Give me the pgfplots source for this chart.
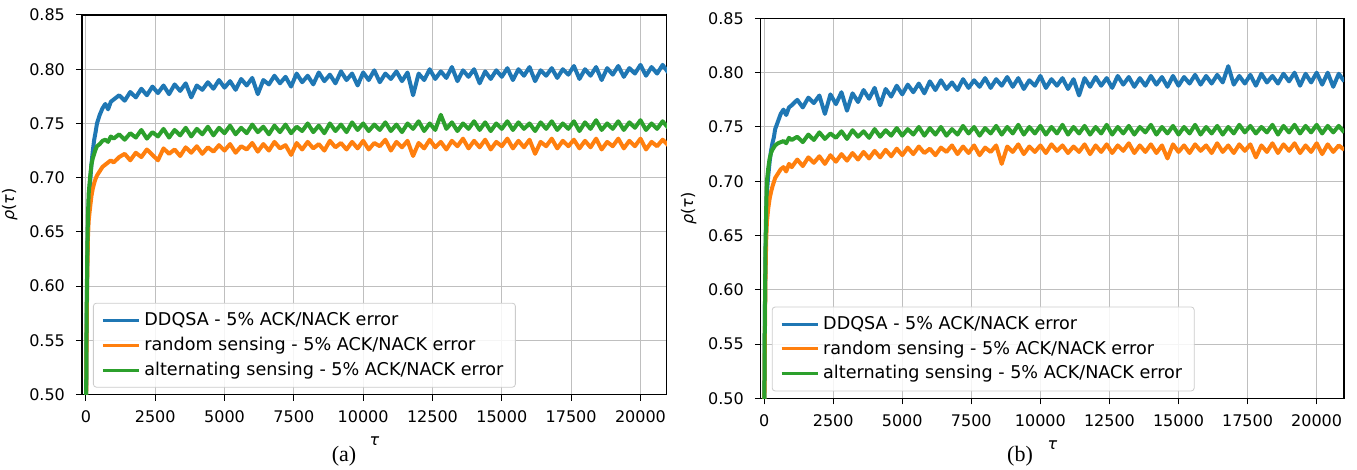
\documentclass[border=0pt]{standalone}
\usepackage{fontspec}
\setmainfont{DejaVu Sans}
\newfontfamily\capfont{Liberation Serif}
\usepackage{pgfplots}
\usepackage{pgfplotstable}
\pgfplotsset{compat=1.18}

\definecolor{mblue}{HTML}{1F77B4}
\definecolor{morange}{HTML}{FF7F0E}
\definecolor{mgreen}{HTML}{2CA02C}

% x  ddqsa  random  alternating   -- panel (a)
\pgfplotstableread{
x y1 y2 y3
0 0.450 0.450 0.450
25 0.560 0.550 0.570
50 0.620 0.610 0.630
75 0.655 0.645 0.665
100 0.675 0.660 0.685
150 0.695 0.672 0.700
200 0.712 0.683 0.712
250 0.725 0.690 0.718
300 0.735 0.695 0.722
350 0.742 0.699 0.726
400 0.750 0.702 0.729
500 0.758 0.706 0.731
600 0.764 0.710 0.734
700 0.768 0.712 0.735
800 0.763 0.714 0.733
900 0.770 0.716 0.738
1000 0.772 0.714 0.736
1200 0.776 0.719 0.740
1400 0.771 0.722 0.735
1600 0.779 0.716 0.741
1800 0.774 0.723 0.737
2000 0.782 0.719 0.744
2200 0.776 0.726 0.736
2400 0.784 0.721 0.742
2600 0.778 0.716 0.738
2800 0.785 0.727 0.745
3000 0.777 0.722 0.737
3200 0.786 0.726 0.744
3400 0.780 0.720 0.739
3600 0.787 0.728 0.746
3800 0.774 0.723 0.738
4000 0.785 0.729 0.745
4200 0.781 0.722 0.740
4400 0.788 0.728 0.747
4600 0.782 0.724 0.739
4800 0.790 0.730 0.746
5000 0.783 0.725 0.741
5200 0.789 0.731 0.748
5400 0.781 0.723 0.740
5600 0.791 0.729 0.746
5800 0.785 0.726 0.741
6000 0.792 0.732 0.749
6200 0.777 0.724 0.742
6400 0.790 0.731 0.747
6600 0.786 0.725 0.740
6800 0.794 0.733 0.748
7000 0.787 0.727 0.742
7200 0.793 0.730 0.749
7400 0.784 0.721 0.741
7600 0.796 0.732 0.747
7800 0.788 0.726 0.743
8000 0.794 0.733 0.750
8200 0.786 0.727 0.742
8400 0.797 0.731 0.748
8600 0.789 0.725 0.741
8800 0.795 0.734 0.750
9000 0.787 0.728 0.743
9200 0.798 0.732 0.749
9400 0.790 0.726 0.742
9600 0.796 0.733 0.751
9800 0.785 0.727 0.744
10000 0.797 0.734 0.750
10200 0.790 0.726 0.743
10400 0.799 0.732 0.749
10600 0.788 0.729 0.744
10800 0.796 0.735 0.751
11000 0.791 0.725 0.743
11200 0.798 0.733 0.749
11400 0.789 0.728 0.742
11600 0.797 0.734 0.750
11800 0.776 0.720 0.745
12000 0.796 0.732 0.752
12200 0.790 0.727 0.743
12400 0.800 0.735 0.750
12600 0.791 0.728 0.744
12800 0.798 0.733 0.758
13000 0.792 0.726 0.745
13200 0.802 0.734 0.751
13400 0.789 0.729 0.743
13600 0.799 0.736 0.750
13800 0.793 0.727 0.745
14000 0.800 0.734 0.752
14200 0.787 0.728 0.744
14400 0.798 0.735 0.751
14600 0.791 0.726 0.743
14800 0.799 0.733 0.750
15000 0.793 0.729 0.745
15200 0.801 0.736 0.752
15400 0.790 0.727 0.744
15600 0.800 0.734 0.751
15800 0.794 0.728 0.745
16000 0.802 0.735 0.750
16200 0.789 0.722 0.743
16400 0.799 0.733 0.751
16600 0.794 0.729 0.745
16800 0.801 0.736 0.752
17000 0.792 0.727 0.744
17200 0.800 0.734 0.750
17400 0.795 0.729 0.745
17600 0.803 0.735 0.752
17800 0.791 0.727 0.743
18000 0.800 0.734 0.751
18200 0.794 0.728 0.745
18400 0.802 0.736 0.753
18600 0.790 0.726 0.744
18800 0.801 0.733 0.750
19000 0.795 0.729 0.745
19200 0.803 0.736 0.752
19400 0.793 0.727 0.744
19600 0.801 0.734 0.751
19800 0.796 0.729 0.746
20000 0.804 0.736 0.753
20200 0.794 0.726 0.744
20400 0.802 0.733 0.750
20600 0.796 0.729 0.745
20800 0.804 0.735 0.752
21000 0.797 0.730 0.746
}\dataA

% panel (b)
\pgfplotstableread{
x y1 y2 y3
0 0.450 0.450 0.450
25 0.570 0.550 0.570
50 0.630 0.610 0.640
75 0.665 0.645 0.675
100 0.690 0.662 0.700
150 0.705 0.675 0.712
200 0.718 0.684 0.721
250 0.728 0.690 0.726
300 0.735 0.695 0.729
350 0.740 0.699 0.731
400 0.748 0.703 0.733
500 0.755 0.707 0.735
600 0.762 0.711 0.736
700 0.766 0.713 0.737
800 0.761 0.709 0.735
900 0.768 0.716 0.740
1000 0.770 0.713 0.738
1200 0.775 0.720 0.741
1400 0.768 0.714 0.736
1600 0.777 0.722 0.743
1800 0.772 0.717 0.738
2000 0.779 0.723 0.745
2200 0.762 0.716 0.739
2400 0.780 0.724 0.744
2600 0.771 0.718 0.740
2800 0.782 0.725 0.746
3000 0.765 0.719 0.739
3200 0.781 0.726 0.747
3400 0.773 0.720 0.741
3600 0.784 0.727 0.746
3800 0.776 0.721 0.740
4000 0.786 0.728 0.748
4200 0.770 0.722 0.741
4400 0.785 0.729 0.747
4600 0.778 0.723 0.742
4800 0.788 0.730 0.749
5000 0.780 0.724 0.742
5200 0.789 0.731 0.748
5400 0.782 0.725 0.743
5600 0.790 0.732 0.750
5800 0.781 0.726 0.742
6000 0.792 0.730 0.749
6200 0.784 0.724 0.743
6400 0.793 0.731 0.750
6600 0.785 0.727 0.742
6800 0.791 0.733 0.748
7000 0.784 0.725 0.743
7200 0.794 0.732 0.751
7400 0.786 0.726 0.744
7600 0.793 0.733 0.750
7800 0.787 0.724 0.742
8000 0.795 0.731 0.749
8200 0.786 0.727 0.744
8400 0.794 0.733 0.751
8600 0.788 0.716 0.743
8800 0.796 0.732 0.750
9000 0.787 0.727 0.744
9200 0.795 0.734 0.752
9400 0.785 0.725 0.743
9600 0.793 0.732 0.750
9800 0.788 0.727 0.744
10000 0.797 0.733 0.751
10200 0.786 0.726 0.743
10400 0.794 0.734 0.750
10600 0.788 0.728 0.744
10800 0.795 0.733 0.752
11000 0.785 0.726 0.743
11200 0.794 0.732 0.750
11400 0.779 0.727 0.744
11600 0.795 0.734 0.751
11800 0.787 0.725 0.743
12000 0.796 0.733 0.750
12200 0.788 0.727 0.744
12400 0.795 0.734 0.752
12600 0.786 0.726 0.743
12800 0.797 0.733 0.750
13000 0.789 0.728 0.744
13200 0.796 0.735 0.751
13400 0.787 0.726 0.743
13600 0.795 0.733 0.750
13800 0.788 0.727 0.745
14000 0.797 0.734 0.752
14200 0.789 0.726 0.743
14400 0.796 0.733 0.750
14600 0.787 0.721 0.744
14800 0.797 0.734 0.751
15000 0.788 0.727 0.743
15200 0.796 0.733 0.750
15400 0.790 0.726 0.744
15600 0.798 0.734 0.752
15800 0.789 0.728 0.743
16000 0.797 0.733 0.750
16200 0.790 0.726 0.744
16400 0.798 0.735 0.751
16600 0.791 0.727 0.743
16800 0.806 0.733 0.750
17000 0.789 0.726 0.744
17200 0.797 0.734 0.752
17400 0.790 0.728 0.745
17600 0.798 0.734 0.751
17800 0.788 0.722 0.744
18000 0.799 0.733 0.750
18200 0.791 0.727 0.745
18400 0.797 0.735 0.752
18600 0.790 0.726 0.743
18800 0.799 0.734 0.751
19000 0.792 0.728 0.745
19200 0.800 0.735 0.752
19400 0.788 0.726 0.744
19600 0.799 0.733 0.751
19800 0.791 0.727 0.745
20000 0.800 0.735 0.752
20200 0.789 0.725 0.744
20400 0.800 0.734 0.751
20600 0.787 0.727 0.745
20800 0.799 0.733 0.751
21000 0.792 0.729 0.745
}\dataB

\pgfplotsset{
  panel/.style={
    scale only axis,
    ymin=0.5, ymax=0.85,
    xtick={0,2500,5000,7500,10000,12500,15000,17500,20000},
    ytick={0.50,0.55,0.60,0.65,0.70,0.75,0.80,0.85},
    scaled x ticks=false,
    /pgf/number format/assume math mode=true,
    xticklabel style={/pgf/number format/fixed, /pgf/number format/1000 sep={}, yshift=-1.5pt},
    yticklabel style={/pgf/number format/fixed, /pgf/number format/fixed zerofill, /pgf/number format/precision=2, xshift=-2pt},
    tick label style={font=\fontsize{8}{9}\selectfont},
    grid=major,
    major grid style={draw=black!25, line width=0.5pt},
    axis line style={line width=0.6pt},
    tick style={black, line width=0.5pt},
    tick align=outside, tick pos=left,
    major tick length=3pt,
    xlabel={\textit{τ}}, ylabel={\textit{ρ}(\textit{τ})},
    label style={font=\fontsize{8}{9}\selectfont},
    xlabel style={yshift=0pt},
    ylabel style={yshift=-1pt},
    legend cell align=left,
    legend style={at={(0,0)}, anchor=south west,
      xshift=5.5pt, yshift=3.5pt, draw=black!20, rounded corners=1.5pt,
      fill=white, fill opacity=0.85, text opacity=1,
      font=\fontsize{8.8}{9.6}\selectfont, row sep=0.3pt,
      inner xsep=4pt, inner ysep=2.5pt},
    legend image code/.code={\draw[line width=1.5pt] (0pt,0pt) -- (18pt,0pt);},
    every axis plot/.append style={line width=2pt, line join=round},
  }
}

\begin{document}
\begin{tikzpicture}
\useasboundingbox (0,0) rectangle (678.5pt,-235pt);
\begin{axis}[panel, at={(41pt,-7.5pt)}, anchor=north west,
  width=292.4pt, height=189.8pt, xmin=-140, xmax=20950]
\addplot[mblue] table[x=x, y=y1] {\dataA};
\addplot[morange] table[x=x, y=y2] {\dataA};
\addplot[mgreen] table[x=x, y=y3] {\dataA};
\legend{DDQSA - 5\% ACK/NACK error, random sensing - 5\% ACK/NACK error, alternating sensing - 5\% ACK/NACK error}
\end{axis}
\node[font=\capfont\fontsize{11}{12}\selectfont] at (172pt,-228pt) {(a)};

\begin{axis}[panel, at={(380.4pt,-9.2pt)}, anchor=north west,
  width=291.6pt, height=190pt, xmin=-120, xmax=20990]
\addplot[mblue] table[x=x, y=y1] {\dataB};
\addplot[morange] table[x=x, y=y2] {\dataB};
\addplot[mgreen] table[x=x, y=y3] {\dataB};
\legend{DDQSA - 5\% ACK/NACK error, random sensing - 5\% ACK/NACK error, alternating sensing - 5\% ACK/NACK error}
\end{axis}
\node[font=\capfont\fontsize{11}{12}\selectfont] at (510pt,-228pt) {(b)};
\end{tikzpicture}
\end{document}
